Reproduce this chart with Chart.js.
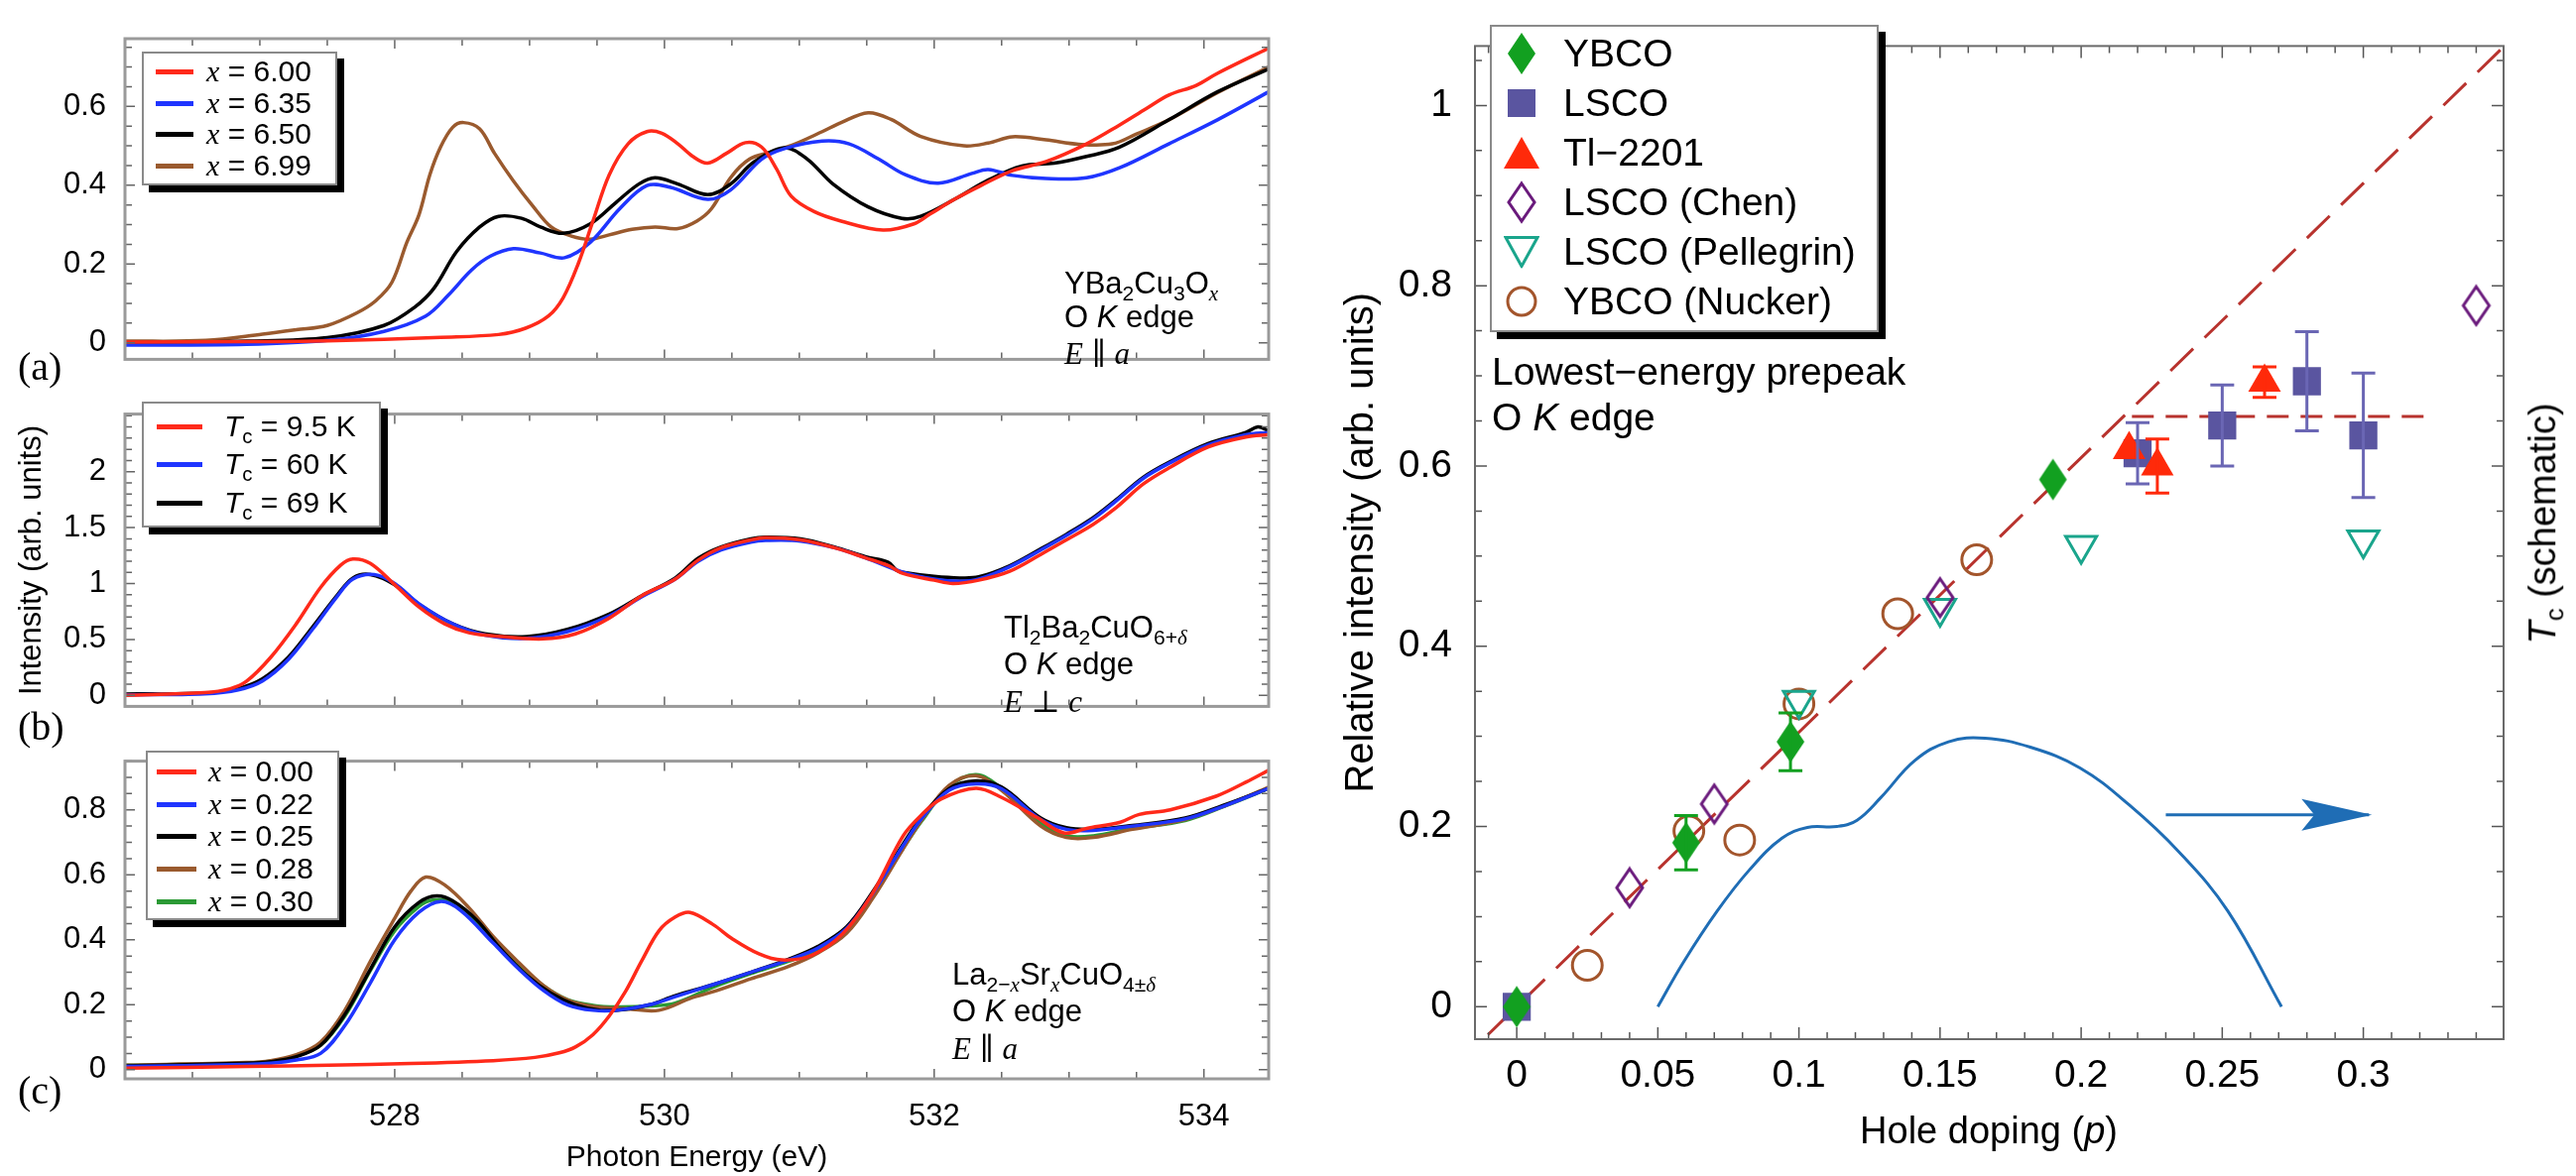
<!DOCTYPE html>
<html>
<head>
<meta charset="utf-8">
<script src="https://cdn.jsdelivr.net/npm/chart.js"></script>
<style>
  html, body { margin: 0; padding: 0; background: #fff; }
  #page { position: relative; width: 2597px; height: 1186px; overflow: hidden;
          font-family: "Liberation Sans", Arial, sans-serif; color: #000; }
  canvas { position: absolute; }
  .txt { position: absolute; white-space: nowrap; }
  .box { position: absolute; box-sizing: border-box; background: #fff;
         border: 2px solid #8a8a8a; box-shadow: 7px 7px 0 #000; }
  .m { font-family: "Liberation Serif", "DejaVu Serif", serif; font-style: italic; }
  .sym { font-family: "DejaVu Serif", serif; font-style: normal; }
  sub { font-size: 68%; line-height: 0; vertical-align: -0.32em; }
</style>
</head>
<body>
<div id="page">
  <canvas id="panelA" width="1300" height="400" style="left:0;top:0"></canvas>
  <canvas id="panelB" width="1300" height="370" style="left:0;top:380px"></canvas>
  <canvas id="panelC" width="1300" height="456" style="left:0;top:730px"></canvas>
  <canvas id="doping" width="1297" height="1186" style="left:1300px;top:0"></canvas>
</div>
<script>
const FONT = "'Liberation Sans', Arial, sans-serif";

// ---------- left: O K-edge spectra, [photon energy (eV), intensity] ----------
const energyMin = 526.0, energyMax = 534.48;
const energyLabels = [528, 530, 532, 534];

// (a) YBa2Cu3Ox
const labelsA = ['6.00', '6.35', '6.50', '6.99'];
const colorsA = ['#ff2a1a', '#1f35ff', '#000000', '#9a5a2e'];
const ybco600 = [[526.0,0.002],[526.9,0.003],[527.5,0.005],[528.34,0.014],[528.77,0.021],[528.97,0.037],[529.14,0.068],[529.25,0.115],[529.36,0.2],[529.47,0.309],[529.59,0.426],[529.73,0.505],[529.87,0.536],[529.98,0.532],[530.1,0.505],[530.21,0.473],[530.32,0.456],[530.46,0.481],[530.6,0.508],[530.72,0.497],[530.83,0.442],[530.94,0.372],[531.11,0.333],[531.31,0.309],[531.62,0.286],[531.85,0.302],[531.97,0.327],[532.16,0.366],[532.34,0.398],[532.58,0.437],[532.83,0.46],[533.13,0.505],[533.37,0.552],[533.57,0.594],[533.74,0.629],[533.94,0.653],[534.1,0.684],[534.48,0.748]];
const ybco635 = [[526.0,-0.006],[526.9,-0.004],[527.5,0.006],[527.92,0.029],[528.23,0.068],[528.4,0.122],[528.57,0.185],[528.71,0.22],[528.88,0.239],[529.08,0.228],[529.26,0.216],[529.45,0.255],[529.67,0.341],[529.87,0.399],[530.04,0.395],[530.32,0.364],[530.49,0.388],[530.72,0.466],[530.89,0.493],[531.17,0.512],[531.37,0.505],[531.59,0.466],[531.79,0.426],[532.03,0.405],[532.28,0.43],[532.4,0.44],[532.58,0.425],[532.83,0.417],[533.13,0.419],[533.38,0.445],[533.74,0.505],[534.1,0.566],[534.48,0.637]];
const ybco650 = [[526.0,0.0],[526.9,0.004],[527.5,0.013],[527.92,0.044],[528.15,0.091],[528.29,0.138],[528.46,0.232],[528.63,0.294],[528.77,0.321],[528.94,0.316],[529.08,0.294],[529.25,0.278],[529.45,0.302],[529.64,0.356],[529.81,0.403],[529.93,0.419],[530.1,0.403],[530.32,0.376],[530.49,0.403],[530.66,0.458],[530.89,0.495],[531.06,0.466],[531.25,0.403],[531.51,0.345],[531.76,0.316],[531.9,0.321],[532.16,0.366],[532.4,0.413],[532.65,0.449],[532.89,0.456],[533.13,0.473],[533.37,0.496],[533.74,0.566],[534.1,0.637],[534.48,0.695]];
const ybco699 = [[526.0,0.004],[526.6,0.006],[527.02,0.022],[527.27,0.033],[527.5,0.044],[527.72,0.076],[527.86,0.107],[527.98,0.154],[528.09,0.255],[528.18,0.325],[528.26,0.426],[528.34,0.497],[528.43,0.547],[528.51,0.559],[528.63,0.543],[528.74,0.481],[528.88,0.411],[529.02,0.349],[529.16,0.294],[529.31,0.271],[529.45,0.263],[529.59,0.274],[529.76,0.288],[529.93,0.294],[530.1,0.29],[530.24,0.309],[530.35,0.341],[530.49,0.419],[530.63,0.466],[530.8,0.485],[530.97,0.505],[531.17,0.536],[531.31,0.559],[531.51,0.584],[531.68,0.567],[531.9,0.524],[532.22,0.5],[532.4,0.507],[532.58,0.523],[532.83,0.515],[533.07,0.504],[533.32,0.505],[533.5,0.53],[533.74,0.566],[534.1,0.635],[534.48,0.7]];

// (b) Tl2Ba2CuO6+d
const labelsB = ['9.5', '60', '69'];
const colorsB = ['#ff2a1a', '#1f35ff', '#000000'];
const tl95 = [[526.0,0.0],[526.59,0.025],[526.78,0.06],[526.9,0.125],[527.08,0.34],[527.27,0.64],[527.45,0.965],[527.6,1.165],[527.69,1.22],[527.82,1.18],[528.0,0.99],[528.18,0.79],[528.37,0.64],[528.55,0.56],[528.79,0.526],[529.1,0.505],[529.34,0.55],[529.59,0.69],[529.83,0.89],[530.08,1.04],[530.25,1.21],[530.42,1.32],[530.64,1.39],[530.75,1.41],[531.01,1.39],[531.26,1.32],[531.49,1.23],[531.66,1.16],[531.77,1.09],[532.0,1.03],[532.14,1.0],[532.33,1.03],[532.56,1.11],[532.79,1.26],[532.98,1.39],[533.18,1.53],[533.35,1.68],[533.55,1.89],[533.75,2.04],[534.03,2.22],[534.31,2.31],[534.48,2.33]];
const tl60 = [[526.0,0.005],[526.59,0.015],[526.84,0.05],[527.02,0.13],[527.21,0.32],[527.39,0.59],[527.57,0.88],[527.69,1.04],[527.85,1.08],[528.0,1.0],[528.18,0.82],[528.43,0.64],[528.67,0.54],[528.98,0.51],[529.28,0.57],[529.59,0.71],[529.83,0.88],[530.08,1.04],[530.25,1.2],[530.42,1.3],[530.64,1.37],[530.75,1.385],[531.01,1.38],[531.26,1.32],[531.49,1.23],[531.77,1.1],[532.0,1.04],[532.19,1.02],[532.33,1.04],[532.56,1.15],[532.79,1.3],[532.98,1.43],[533.18,1.58],[533.35,1.74],[533.55,1.94],[533.75,2.08],[534.03,2.24],[534.31,2.33],[534.48,2.35]];
const tl69 = [[526.0,0.013],[526.59,0.02],[526.84,0.063],[527.02,0.15],[527.21,0.34],[527.39,0.61],[527.57,0.89],[527.69,1.05],[527.82,1.08],[528.0,0.99],[528.18,0.815],[528.43,0.64],[528.67,0.55],[528.98,0.526],[529.28,0.59],[529.59,0.727],[529.83,0.89],[530.08,1.05],[530.25,1.226],[530.42,1.327],[530.64,1.4],[530.75,1.414],[531.01,1.4],[531.26,1.327],[531.49,1.24],[531.66,1.19],[531.72,1.12],[531.77,1.1],[532.0,1.064],[532.19,1.05],[532.33,1.06],[532.56,1.16],[532.79,1.31],[532.98,1.44],[533.18,1.59],[533.35,1.75],[533.55,1.95],[533.75,2.09],[534.03,2.25],[534.31,2.35],[534.4,2.4],[534.48,2.365]];

// (c) La2-xSrxCuO4
const labelsC = ['0.00', '0.22', '0.25', '0.28', '0.30'];
const colorsC = ['#ff2a1a', '#1f35ff', '#000000', '#9a5a2e', '#2b9a35'];
const lsco000 = [[526.0,0.005],[526.9,0.01],[527.51,0.014],[528.12,0.019],[528.73,0.028],[529.04,0.038],[529.22,0.052],[529.34,0.07],[529.47,0.108],[529.59,0.165],[529.71,0.24],[529.83,0.334],[529.96,0.428],[530.08,0.47],[530.19,0.484],[530.36,0.447],[530.5,0.404],[530.7,0.357],[530.87,0.338],[531.09,0.352],[531.32,0.418],[531.54,0.541],[531.77,0.72],[531.91,0.786],[532.05,0.833],[532.31,0.866],[532.5,0.838],[532.76,0.777],[532.96,0.729],[533.13,0.743],[533.38,0.762],[533.52,0.786],[533.75,0.8],[534.09,0.842],[534.31,0.885],[534.48,0.922]];
const lsco022 = [[526.0,0.01],[526.9,0.016],[527.08,0.02],[527.27,0.03],[527.45,0.05],[527.63,0.136],[527.82,0.268],[528.0,0.4],[528.18,0.485],[528.34,0.518],[528.49,0.49],[528.73,0.39],[528.92,0.31],[529.1,0.245],[529.28,0.2],[529.47,0.183],[529.65,0.183],[529.89,0.2],[530.08,0.225],[530.36,0.262],[530.64,0.3],[530.92,0.338],[531.14,0.375],[531.35,0.435],[531.54,0.54],[531.77,0.69],[531.91,0.775],[532.11,0.86],[532.31,0.88],[532.5,0.865],[532.79,0.77],[532.98,0.74],[533.18,0.737],[533.47,0.75],[533.86,0.772],[534.17,0.815],[534.48,0.866]];
const lsco025 = [[526.0,0.012],[526.9,0.02],[527.08,0.025],[527.27,0.04],[527.45,0.075],[527.63,0.17],[527.82,0.31],[528.0,0.44],[528.18,0.515],[528.31,0.535],[528.43,0.52],[528.61,0.46],[528.79,0.37],[528.98,0.29],[529.16,0.235],[529.34,0.2],[529.53,0.183],[529.71,0.186],[529.89,0.2],[530.08,0.228],[530.36,0.262],[530.64,0.3],[530.92,0.34],[531.14,0.38],[531.35,0.44],[531.54,0.545],[531.77,0.695],[531.91,0.78],[532.11,0.865],[532.31,0.889],[532.5,0.87],[532.79,0.775],[532.98,0.745],[533.18,0.74],[533.47,0.752],[533.86,0.775],[534.17,0.818],[534.48,0.866]];
const lsco028 = [[526.0,0.014],[526.9,0.022],[527.08,0.028],[527.27,0.046],[527.45,0.085],[527.63,0.183],[527.82,0.334],[528.0,0.466],[528.12,0.55],[528.23,0.593],[528.37,0.569],[528.55,0.499],[528.73,0.41],[528.92,0.33],[529.1,0.26],[529.28,0.215],[529.47,0.195],[529.71,0.188],[529.96,0.183],[530.2,0.221],[530.36,0.24],[530.64,0.28],[530.92,0.318],[531.14,0.36],[531.35,0.42],[531.54,0.525],[531.77,0.68],[531.91,0.77],[532.11,0.875],[532.31,0.905],[532.5,0.86],[532.79,0.75],[532.98,0.715],[533.18,0.715],[533.47,0.74],[533.86,0.77],[534.17,0.815],[534.48,0.87]];
const lsco030 = [[526.0,0.014],[526.9,0.02],[527.08,0.026],[527.27,0.042],[527.45,0.075],[527.63,0.165],[527.82,0.306],[528.0,0.428],[528.18,0.503],[528.28,0.522],[528.4,0.518],[528.55,0.475],[528.73,0.4],[528.92,0.325],[529.1,0.259],[529.28,0.216],[529.47,0.198],[529.65,0.193],[529.89,0.196],[530.08,0.205],[530.36,0.254],[530.64,0.296],[530.92,0.334],[531.14,0.371],[531.35,0.428],[531.54,0.531],[531.77,0.682],[531.91,0.767],[532.11,0.871],[532.31,0.908],[532.5,0.866],[532.79,0.758],[532.98,0.72],[533.18,0.72],[533.47,0.743],[533.86,0.767],[534.17,0.814],[534.48,0.866]];

// ---------- right: prepeak intensity vs hole doping ----------
const ybcoP = [0, 0.06, 0.097, 0.19];
const ybcoI = [0, 0.182, 0.294, 0.585];
const ybcoErr = [0, 0.03, 0.032, 0];
const lscoP = [0, 0.22, 0.25, 0.28, 0.30];
const lscoI = [0, 0.614, 0.645, 0.694, 0.634];
const lscoErr = [0, 0.034, 0.045, 0.055, 0.069];
const tlP = [0.217, 0.227, 0.265];
const tlI = [0.618, 0.6, 0.693];
const tlErr = [0, 0.03, 0.017];
const chenP = [0.04, 0.07, 0.15, 0.34];
const chenI = [0.132, 0.225, 0.454, 0.778];
const pellP = [0.10, 0.15, 0.20, 0.30];
const pellI = [0.34, 0.442, 0.512, 0.518];
const nuckerP = [0.025, 0.061, 0.079, 0.10, 0.135, 0.163];
const nuckerI = [0.046, 0.195, 0.185, 0.336, 0.436, 0.496];
const trendP = [-0.0102, 0.35];
const trendI = [-0.031, 1.066];
const plateauP = [0.218, 0.322];
const plateauI = [0.655, 0.655];
const tcP = [0.05, 0.059, 0.071, 0.0825, 0.094, 0.103, 0.1135, 0.1206, 0.129, 0.141, 0.153, 0.166, 0.182, 0.1996, 0.217, 0.2346, 0.252, 0.271];
const tcI = [0, 0.049, 0.106, 0.152, 0.187, 0.199, 0.2, 0.207, 0.232, 0.273, 0.294, 0.298, 0.288, 0.265, 0.224, 0.172, 0.106, 0];
const arrowP = [0.23, 0.302];
const arrowI = [0.213, 0.213];
const dopingLabels = [0, 0.05, 0.1, 0.15, 0.2, 0.25, 0.3];
const relLabels = [0, 0.2, 0.4, 0.6, 0.8, 1];

// ---------- helpers ----------
const page = document.getElementById('page');

function stepTicks(lo, hi, step) {
  const out = [];
  for (let k = Math.ceil(lo / step - 1e-9); k * step <= hi + 1e-9; k++) out.push(+(k * step).toFixed(6));
  return out;
}
function isMajor(v, majors) { return majors.some(m => Math.abs(m - v) < 1e-6); }
function fmt(v) { return String(+v.toFixed(3)); }
function pts(xs, ys) { return xs.map((x, i) => ({ x: x, y: ys[i] })); }

// inward tick marks on all four sides plus the frame
const frameTicks = {
  id: 'frameTicks',
  afterDraw(chart, args, o) {
    const { ctx, chartArea: a } = chart;
    const sx = chart.scales.x, sy = chart.scales.y;
    ctx.save();
    ctx.strokeStyle = o.tickColor;
    ctx.lineWidth = o.tickWidth;
    ctx.beginPath();
    sx.ticks.forEach(t => {
      const p = sx.getPixelForValue(t.value);
      const len = isMajor(t.value, o.xMajors) ? o.majorLen : o.minorLen;
      ctx.moveTo(p, a.bottom); ctx.lineTo(p, a.bottom - len);
      ctx.moveTo(p, a.top); ctx.lineTo(p, a.top + len);
    });
    sy.ticks.forEach(t => {
      const p = sy.getPixelForValue(t.value);
      const len = isMajor(t.value, o.yMajors) ? o.majorLen : o.minorLen;
      ctx.moveTo(a.left, p); ctx.lineTo(a.left + len, p);
      ctx.moveTo(a.right, p); ctx.lineTo(a.right - len, p);
    });
    ctx.stroke();
    ctx.lineWidth = o.frameWidth;
    ctx.strokeStyle = o.frameColor;
    ctx.strokeRect(a.left, a.top, a.right - a.left, a.bottom - a.top);
    ctx.restore();
  }
};

// vertical error bars with caps, from dataset.errors
const errorBars = {
  id: 'errorBars',
  afterDatasetsDraw(chart) {
    const { ctx } = chart;
    const sx = chart.scales.x, sy = chart.scales.y;
    chart.data.datasets.forEach(ds => {
      if (!ds.errors) return;
      ctx.save();
      ctx.strokeStyle = ds.errorColor || ds.borderColor;
      ctx.lineWidth = 3;
      ctx.beginPath();
      ds.data.forEach((p, j) => {
        const e = ds.errors[j];
        if (!e) return;
        const px = sx.getPixelForValue(p.x);
        const t = sy.getPixelForValue(p.y + e), b = sy.getPixelForValue(p.y - e);
        ctx.moveTo(px, t); ctx.lineTo(px, b);
        ctx.moveTo(px - 12, t); ctx.lineTo(px + 12, t);
        ctx.moveTo(px - 12, b); ctx.lineTo(px + 12, b);
      });
      ctx.stroke();
      ctx.restore();
    });
  }
};

// arrow head at the end of a dataset flagged arrowHead
const arrowHeads = {
  id: 'arrowHeads',
  afterDatasetsDraw(chart) {
    const { ctx } = chart;
    const sx = chart.scales.x, sy = chart.scales.y;
    chart.data.datasets.forEach(ds => {
      if (!ds.arrowHead) return;
      const n = ds.data.length;
      const x1 = sx.getPixelForValue(ds.data[n - 2].x), y1 = sy.getPixelForValue(ds.data[n - 2].y);
      const x2 = sx.getPixelForValue(ds.data[n - 1].x), y2 = sy.getPixelForValue(ds.data[n - 1].y);
      const ang = Math.atan2(y2 - y1, x2 - x1);
      ctx.save();
      ctx.translate(x2, y2);
      ctx.rotate(ang);
      ctx.fillStyle = ds.borderColor;
      ctx.beginPath();
      ctx.moveTo(3, 0);
      ctx.lineTo(-68, -16);
      ctx.lineTo(-55, 0);
      ctx.lineTo(-68, 16);
      ctx.closePath();
      ctx.fill();
      ctx.restore();
    });
  }
};

function diamondImage(w, h, fill, stroke, lw) {
  const c = document.createElement('canvas');
  c.width = w + 2 * lw; c.height = h + 2 * lw;
  const g = c.getContext('2d');
  g.beginPath();
  g.moveTo(c.width / 2, lw); g.lineTo(c.width - lw, c.height / 2);
  g.lineTo(c.width / 2, c.height - lw); g.lineTo(lw, c.height / 2);
  g.closePath();
  if (fill) { g.fillStyle = fill; g.fill(); }
  if (stroke) { g.strokeStyle = stroke; g.lineWidth = lw; g.stroke(); }
  return c;
}

function spectrumPanel(id, series, colors, p) {
  return new Chart(document.getElementById(id), {
    type: 'line',
    data: {
      datasets: series.map((s, i) => ({
        data: s.map(q => ({ x: q[0], y: q[1] })),
        borderColor: colors[i], borderWidth: 3.5, pointRadius: 0, tension: 0.35, fill: false
      }))
    },
    options: {
      responsive: false, animation: false, events: [],
      layout: { autoPadding: false, padding: { left: 0, right: 21, top: p.top, bottom: 0 } },
      plugins: {
        legend: { display: false }, tooltip: { enabled: false },
        frameTicks: { xMajors: energyLabels, yMajors: p.yLabels, frameColor: '#9a9a9a', frameWidth: 3,
                      tickColor: '#666', tickWidth: 1.5, majorLen: 10, minorLen: 7 }
      },
      scales: {
        x: {
          type: 'linear', min: energyMin, max: energyMax,
          afterBuildTicks: s => { s.ticks = stepTicks(energyMin, energyMax, 0.5).map(v => ({ value: v })); },
          afterFit: s => { s.height = p.xh; },
          grid: { display: false, drawTicks: false }, border: { display: false },
          ticks: { display: !!p.showX, autoSkip: false, maxRotation: 0, padding: 20, color: '#000',
                   font: { family: FONT, size: 31 }, callback: v => isMajor(v, energyLabels) ? fmt(v) : '' },
          title: { display: !!p.showX, text: 'Photon Energy (eV)', color: '#000',
                   font: { family: FONT, size: 30 }, padding: { top: 0, bottom: 0 } }
        },
        y: {
          type: 'linear', min: p.yMin, max: p.yMax,
          afterBuildTicks: s => { s.ticks = stepTicks(p.yMin, p.yMax, p.yStep).map(v => ({ value: v })); },
          afterFit: s => { s.width = 126; },
          grid: { display: false, drawTicks: false }, border: { display: false },
          ticks: { autoSkip: false, padding: 19, color: '#000', font: { family: FONT, size: 31 },
                   callback: v => isMajor(v, p.yLabels) ? fmt(v) : '' },
          title: { display: !!p.title, text: p.title || '', color: '#000',
                   font: { family: FONT, size: 31 }, padding: { top: 14, bottom: 0 } }
        }
      }
    },
    plugins: [frameTicks]
  });
}

spectrumPanel('panelA', [ybco600, ybco635, ybco650, ybco699], colorsA,
  { top: 39, xh: 13, yMin: -0.042, yMax: 0.772, yStep: 0.05, yLabels: [0, 0.2, 0.4, 0.6] });
spectrumPanel('panelB', [tl95, tl60, tl69], colorsB,
  { top: 10, xh: 12, yMin: -0.098, yMax: 2.515, yStep: 0.1, yLabels: [0, 0.5, 1, 1.5, 2],
    title: 'Intensity (arb. units)' });
spectrumPanel('panelC', [lsco000, lsco022, lsco025, lsco028, lsco030], colorsC,
  { top: 12, xh: 98, yMin: -0.028, yMax: 0.95, yStep: 0.05, yLabels: [0, 0.2, 0.4, 0.6, 0.8], showX: true });

// ---------- right chart ----------
const green = '#12a020', slate = '#5a55a0', red = '#ff2a0a', purple = '#6a1a7c',
      teal = '#1aa58c', brown = '#a3552c', dashRed = '#b8332e', tcBlue = '#1f6db5';
const ybcoMarker = diamondImage(28, 42, green, null, 1);
const chenMarker = diamondImage(26, 38, null, purple, 3);
const dopMin = -0.0148, dopMax = 0.3497, relMin = -0.036, relMax = 1.066;

new Chart(document.getElementById('doping'), {
  type: 'scatter',
  data: {
    datasets: [
      { label: 'YBCO', data: pts(ybcoP, ybcoI), errors: ybcoErr, pointStyle: ybcoMarker, pointRadius: 20,
        borderColor: green, backgroundColor: green, order: 1 },
      { label: 'LSCO', data: pts(lscoP, lscoI), errors: lscoErr, errorColor: '#6a66b4', pointStyle: 'rect',
        pointRadius: 20, borderWidth: 0, borderColor: slate, backgroundColor: slate, order: 2 },
      { label: 'Tl\u22122201', data: pts(tlP, tlI), errors: tlErr, pointStyle: 'triangle', pointRadius: 19,
        borderWidth: 0, borderColor: red, backgroundColor: red, order: 1 },
      { label: 'LSCO (Chen)', data: pts(chenP, chenI), pointStyle: chenMarker, pointRadius: 20,
        borderColor: purple, backgroundColor: purple, order: 1 },
      { label: 'LSCO (Pellegrin)', data: pts(pellP, pellI), pointStyle: 'triangle', rotation: 180, pointRadius: 18,
        borderWidth: 3, borderColor: teal, backgroundColor: 'rgba(0,0,0,0)', order: 1 },
      { label: 'YBCO (Nucker)', data: pts(nuckerP, nuckerI), pointStyle: 'circle', pointRadius: 15,
        borderWidth: 3, borderColor: brown, backgroundColor: 'rgba(0,0,0,0)', order: 1 },
      { data: pts(trendP, trendI), showLine: true, pointRadius: 0, borderColor: dashRed, borderWidth: 3,
        borderDash: [32, 16], order: 5 },
      { data: pts(plateauP, plateauI), showLine: true, pointRadius: 0, borderColor: dashRed, borderWidth: 3,
        borderDash: [22, 12], order: 5 },
      { data: pts(tcP, tcI), showLine: true, pointRadius: 0, borderColor: tcBlue, borderWidth: 3,
        tension: 0.4, order: 5 },
      { data: pts(arrowP, arrowI), showLine: true, pointRadius: 0, borderColor: tcBlue, borderWidth: 3,
        arrowHead: true, order: 5 }
    ]
  },
  options: {
    responsive: false, animation: false, events: [],
    layout: { autoPadding: false, padding: { left: 0, right: 73, top: 9, bottom: 0 } },
    plugins: {
      legend: { display: false }, tooltip: { enabled: false },
      frameTicks: { xMajors: dopingLabels, yMajors: relLabels, frameColor: '#6a6a6a', frameWidth: 2,
                    tickColor: '#555', tickWidth: 1.5, majorLen: 12, minorLen: 7 }
    },
    scales: {
      x: {
        type: 'linear', min: dopMin, max: dopMax,
        afterBuildTicks: s => { s.ticks = stepTicks(dopMin, dopMax, 0.01).map(v => ({ value: v })); },
        afterFit: s => { s.height = 138; },
        grid: { display: false, drawTicks: false }, border: { display: false },
        ticks: { autoSkip: false, maxRotation: 0, padding: 14, color: '#000', font: { family: FONT, size: 39 },
                 callback: v => isMajor(v, dopingLabels) ? fmt(v) : '' }
      },
      y: {
        type: 'linear', min: relMin, max: relMax,
        afterBuildTicks: s => { s.ticks = stepTicks(relMin, relMax, 0.05).map(v => ({ value: v })); },
        afterFit: s => { s.width = 187; },
        grid: { display: false, drawTicks: false }, border: { display: false },
        ticks: { autoSkip: false, padding: 23, color: '#000', font: { family: FONT, size: 39 },
                 callback: v => isMajor(v, relLabels) ? fmt(v) : '' },
        title: { display: true, text: 'Relative intensity (arb. units)', color: '#000',
                 font: { family: FONT, size: 40 }, padding: { top: 49, bottom: 0 } }
      }
    }
  },
  plugins: [frameTicks, errorBars, arrowHeads]
});

// ---------- text overlays and legends ----------
function addText(html, left, cy, size, extra) {
  const d = document.createElement('div');
  d.className = 'txt';
  d.innerHTML = html;
  d.style.left = left + 'px';
  d.style.top = (cy - size * 0.6) + 'px';
  d.style.fontSize = size + 'px';
  d.style.lineHeight = (size * 1.2) + 'px';
  if (extra) Object.assign(d.style, extra);
  page.appendChild(d);
  return d;
}
function addBox(left, top, w, h) {
  const b = document.createElement('div');
  b.className = 'box';
  Object.assign(b.style, { left: left + 'px', top: top + 'px', width: w + 'px', height: h + 'px' });
  page.appendChild(b);
}
function spectrumLegend(box, rows, colors, labelHtml) {
  addBox(box.left, box.top, box.w, box.h);
  rows.forEach((cy, i) => {
    const ln = document.createElement('div');
    Object.assign(ln.style, { position: 'absolute', left: box.lineL + 'px', top: (cy - 2.5) + 'px',
      width: box.lineW + 'px', height: '5px', background: colors[i] });
    page.appendChild(ln);
    addText(labelHtml(i), box.textL, cy, 30);
  });
}

spectrumLegend({ left: 143, top: 52, w: 197, h: 135, lineL: 157, lineW: 38, textL: 208 },
  [72, 104, 135, 167], colorsA, i => '<span class="m">x</span> = ' + labelsA[i]);
spectrumLegend({ left: 143, top: 405, w: 241, h: 127, lineL: 158, lineW: 46, textL: 226 },
  [430, 468, 507], colorsB, i => '<i>T</i><sub>c</sub> = ' + labelsB[i] + ' K');
spectrumLegend({ left: 147, top: 757, w: 195, h: 171, lineL: 158, lineW: 40, textL: 210 },
  [778, 811, 843, 876, 909], colorsC, i => '<span class="m">x</span> = ' + labelsC[i]);

// panel annotations
addText('YBa<sub>2</sub>Cu<sub>3</sub>O<sub><span class="m">x</span></sub>', 1073, 286, 31);
addText('O <i>K</i> edge', 1073, 320, 31);
addText('<span class="m">E</span> <span class="sym">\u2225</span> <span class="m">a</span>', 1073, 357, 31);
addText('Tl<sub>2</sub>Ba<sub>2</sub>CuO<sub>6+<span class="m">\u03b4</span></sub>', 1012, 633, 31);
addText('O <i>K</i> edge', 1012, 670, 31);
addText('<span class="m">E</span> <span class="sym">\u22a5</span> <span class="m">c</span>', 1012, 708, 31);
addText('La<sub>2\u2212<span class="m">x</span></sub>Sr<sub><span class="m">x</span></sub>CuO<sub>4\u00b1<span class="m">\u03b4</span></sub>', 960, 983, 31);
addText('O <i>K</i> edge', 960, 1020, 31);
addText('<span class="m">E</span> <span class="sym">\u2225</span> <span class="m">a</span>', 960, 1058, 31);
addText('(a)', 18, 370, 40, { fontFamily: "'Liberation Serif', serif" });
addText('(b)', 18, 733, 40, { fontFamily: "'Liberation Serif', serif" });
addText('(c)', 18, 1100, 40, { fontFamily: "'Liberation Serif', serif" });

// right legend
const rightNames = ['YBCO', 'LSCO', 'Tl\u22122201', 'LSCO (Chen)', 'LSCO (Pellegrin)', 'YBCO (Nucker)'];
const rightMarkers = [
  '<svg width="32" height="46"><polygon points="16,2 30,23 16,44 2,23" fill="' + green + '"/></svg>',
  '<svg width="30" height="30"><rect x="1" y="1" width="28" height="28" fill="' + slate + '"/></svg>',
  '<svg width="38" height="34"><polygon points="19,1 37,33 1,33" fill="' + red + '"/></svg>',
  '<svg width="32" height="44"><polygon points="16,3 29,22 16,41 3,22" fill="none" stroke="' + purple + '" stroke-width="3"/></svg>',
  '<svg width="36" height="33"><polygon points="2,2 34,2 18,31" fill="none" stroke="' + teal + '" stroke-width="3"/></svg>',
  '<svg width="34" height="34"><circle cx="17" cy="17" r="14" fill="none" stroke="' + brown + '" stroke-width="3"/></svg>'
];
addBox(1502, 25, 392, 310);
rightNames.forEach((name, i) => {
  const cy = 54 + 50 * i;
  const m = document.createElement('div');
  m.innerHTML = rightMarkers[i];
  Object.assign(m.style, { position: 'absolute', left: '1534px', top: cy + 'px', transform: 'translate(-50%,-50%)',
    lineHeight: '0' });
  page.appendChild(m);
  addText(name, 1576, cy, 39);
});
addText('Lowest\u2212energy prepeak', 1504, 375, 39);
addText('O <i>K</i> edge', 1504, 421, 39);

// right-side axis titles
addText('Hole doping (<i>p</i>)', 2005, 1141, 38, { transform: 'translateX(-50%)' });
const tcTitle = addText('<i>T</i><sub>c</sub> (schematic)', 2564, 528, 38);
Object.assign(tcTitle.style, { top: '528px', transform: 'translate(-50%,-50%) rotate(-90deg)' });
</script>
</body>
</html>
